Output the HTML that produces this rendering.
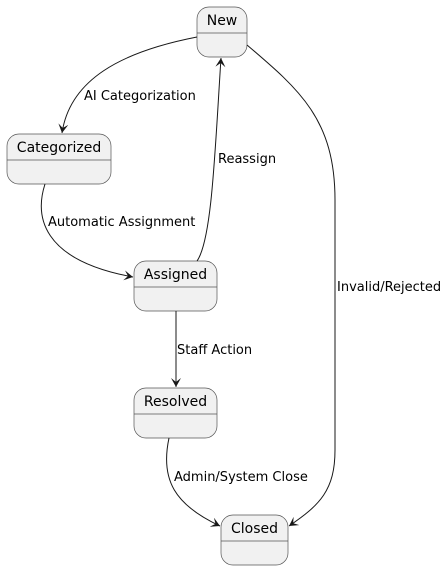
<!DOCTYPE html>
<html><head><style>body{margin:0;background:#fff}svg{display:block}</style></head><body>
<svg width="447" height="570" xmlns="http://www.w3.org/2000/svg" font-family="DejaVu Sans, Liberation Sans, sans-serif" font-size="13">
<defs><marker id="a" viewBox="0 0 10 10" refX="9" refY="5" markerWidth="10" markerHeight="10" markerUnits="userSpaceOnUse" orient="auto"><path d="M0,0 L9,5 L0,10 L4,5 Z" fill="#181818"/></marker></defs>
<g fill="#F1F1F1" stroke="#555" stroke-width="0.7">
<rect x="197" y="7" width="50" height="50" rx="12"/><line x1="197" y1="33" x2="247" y2="33"/>
<rect x="7" y="134" width="104" height="50" rx="12"/><line x1="7" y1="160" x2="111" y2="160"/>
<rect x="134" y="261" width="83" height="50" rx="12"/><line x1="134" y1="287" x2="217" y2="287"/>
<rect x="134" y="388" width="83" height="50" rx="12"/><line x1="134" y1="414" x2="217" y2="414"/>
<rect x="221" y="515" width="67" height="50" rx="12"/><line x1="221" y1="541" x2="288" y2="541"/>
</g>
<g fill="#000" font-size="14" text-anchor="middle">
<text x="222" y="25">New</text><text x="59" y="152">Categorized</text><text x="175.5" y="279">Assigned</text><text x="175.5" y="406">Resolved</text><text x="254.5" y="533">Closed</text>
</g>
<g fill="none" stroke="#181818" stroke-width="1">
<path d="M197,37 C120,52 70,80 62,133" marker-end="url(#a)"/>
<path d="M45,184 C35,215 40,260 133,277" marker-end="url(#a)"/>
<path d="M197,261 C212,240 215,150 221,58" marker-end="url(#a)"/>
<path d="M247,45 C300,90 335,120 335,200 L335,450 C335,490 320,505 289,526" marker-end="url(#a)"/>
<path d="M176,311 L176,387" marker-end="url(#a)"/>
<path d="M169,438 C160,480 175,505 220,526" marker-end="url(#a)"/>
</g>
<g fill="#000">
<text x="84" y="100">AI Categorization</text>
<text x="48" y="226">Automatic Assignment</text>
<text x="218" y="163">Reassign</text>
<text x="337" y="291">Invalid/Rejected</text>
<text x="177" y="354">Staff Action</text>
<text x="174" y="481">Admin/System Close</text>
</g>
</svg>
</body></html>
